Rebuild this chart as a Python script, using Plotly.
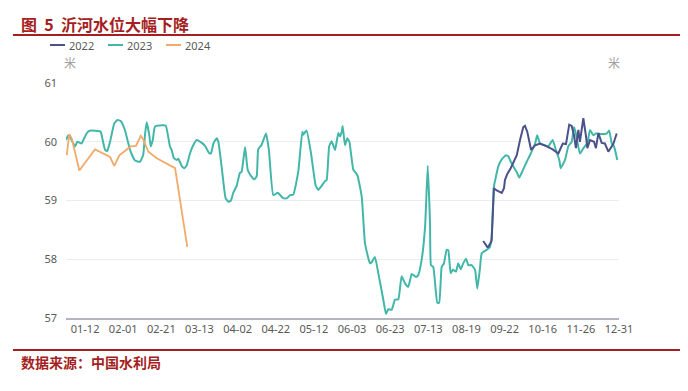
import plotly.graph_objects as go

# category index positions for tick labels
tick_pos = [10, 30, 50, 70, 90, 110, 130, 150, 170, 190, 210, 230, 250, 270, 290]
tick_labels = ["01-12", "02-01", "02-21", "03-13", "04-02", "04-22", "05-12", "06-03",
               "06-23", "07-13", "08-19", "09-22", "10-16", "11-26", "12-31"]
y_ticks = [57, 58, 59, 60, 61]

# 2022 series (category index, water level in metres)
x2022 = [218.8, 220.9, 221.4, 223.2, 224.4, 225.9, 228.5, 229.7, 230.2, 231.4, 233.2, 234.9,
         236.4, 238.1, 239.8, 240.7, 241.9, 243.0, 243.9, 246.0, 248.6, 252.1, 255.2, 258.2,
         260.5, 262.2, 263.9, 265.2, 266.4, 267.4, 268.7, 269.5, 271.3, 272.7, 273.4, 274.8,
         276.9, 277.9, 279.2, 280.9, 282.6, 284.4, 286.2, 287.0, 288.8]
y2022 = [58.31, 58.21, 58.21, 58.31, 59.21, 59.17, 59.13, 59.21, 59.35, 59.45, 59.55, 59.66,
         59.77, 60.03, 60.25, 60.27, 60.17, 60.00, 59.86, 59.94, 59.97, 59.92, 59.87, 59.80,
         59.97, 59.96, 60.29, 60.27, 60.11, 59.89, 60.20, 60.00, 60.40, 60.09, 59.89, 60.03,
         60.00, 59.89, 60.15, 59.98, 59.97, 59.83, 59.92, 59.96, 60.14]

# 2023 series
x2023 = [0, 1.2, 2.6, 4.7, 5.9, 8.2, 9.4, 11.2, 13.0, 17.5, 18.2, 20.5, 21.6, 23.1, 25.3, 26.9,
         28.8, 30.9, 33.6, 36.2, 38.8, 40.5, 41.4, 42.3, 43.7, 44.4, 45.5, 46.7, 51.0, 52.4,
         54.5, 55.4, 56.6, 58.1, 58.9, 60.8, 62.0, 63.3, 65.0, 66.4, 68.5, 71.2, 72.9, 75.0,
         76.0, 77.3, 79.0, 79.9, 81.6, 83.7, 85.1, 86.5, 87.7, 89.5, 91.2, 92.1, 93.9, 95.3,
         97.0, 98.7, 100.0, 100.8, 102.6, 104.9, 106.4, 108.7, 111.0, 113.9, 115.9, 117.5,
         119.2, 121.8, 123.9, 124.4, 125.3, 126.2, 128.5, 130.9, 132.3, 134.1, 135.8, 136.7,
         138.0, 139.3, 141.1, 142.8, 143.7, 144.6, 145.1, 146.3, 147.5, 148.6, 150.7, 152.8,
         155.1, 156.8, 159.4, 160.3, 162.0, 163.8, 166.4, 167.8, 169.0, 170.8, 172.5, 174.3,
         176.0, 177.8, 179.5, 181.3, 183.5, 184.7, 186.5, 188.3, 189.7, 190.9, 191.4, 192.6,
         194.7, 195.7, 197.0, 198.2, 199.6, 200.5, 201.7, 202.8, 204.5, 205.7, 207.0, 208.3,
         209.8, 211.0, 212.7, 214.5, 215.7, 217.1, 218.0, 220.6, 222.3, 223.2, 224.4, 224.9,
         226.7, 228.5, 230.7, 232.0, 232.8, 234.6, 236.4, 237.7, 239.5, 241.6, 243.3, 246.0,
         247.1, 248.6, 251.2, 252.9, 255.2, 256.9, 258.7, 259.4, 261.7, 263.4, 265.2, 266.4,
         267.4, 269.5, 271.3, 273.4, 274.8, 276.5, 277.9, 280.4, 283.5, 284.9, 286.2, 287.4,
         289.1]
y2023 = [60.03, 60.11, 60.05, 59.92, 60.00, 59.97, 60.05, 60.16, 60.19, 60.18, 60.17, 59.86,
         59.84, 60.00, 60.31, 60.37, 60.35, 60.20, 59.86, 59.68, 59.66, 59.78, 60.11, 60.33,
         60.11, 59.92, 60.03, 60.26, 60.28, 60.27, 59.92, 59.86, 59.72, 59.69, 59.71, 59.58,
         59.55, 59.60, 59.80, 59.92, 60.03, 59.98, 59.93, 59.81, 59.80, 59.97, 60.06, 60.00,
         59.58, 59.04, 58.98, 59.00, 59.13, 59.25, 59.47, 59.49, 59.91, 59.52, 59.42, 59.36,
         59.41, 59.87, 59.95, 60.14, 59.86, 59.09, 59.13, 59.04, 59.04, 59.09, 59.10, 59.49,
         60.17, 60.12, 60.16, 60.19, 59.80, 59.26, 59.18, 59.25, 59.33, 59.35, 59.92, 60.01,
         59.86, 60.15, 60.09, 60.17, 60.27, 59.94, 60.06, 60.00, 59.52, 59.43, 59.06, 58.27,
         57.93, 57.95, 58.04, 57.76, 57.31, 57.07, 57.15, 57.14, 57.31, 57.32, 57.71, 57.59,
         57.53, 57.75, 57.70, 57.73, 57.99, 58.55, 59.59, 58.61, 57.90, 57.87, 57.26, 57.26,
         57.87, 57.93, 58.16, 58.15, 57.76, 57.82, 57.79, 57.93, 57.83, 57.93, 58.01, 57.90,
         57.90, 57.82, 57.50, 57.85, 58.10, 58.16, 58.21, 58.38, 59.24, 59.32, 59.58, 59.70,
         59.77, 59.75, 59.69, 59.58, 59.48, 59.39, 59.51, 59.66, 59.77, 59.97, 60.11, 59.97,
         59.94, 59.92, 60.03, 59.86, 59.69, 59.55, 59.69, 59.92, 60.00, 60.25, 60.14, 59.80,
         59.89, 59.98, 60.20, 60.11, 60.14, 60.13, 60.14, 60.19, 59.97, 59.92, 59.69]

# 2024 series
x2024 = [0.4, 1.7, 3.0, 7.0, 15.2, 23.1, 25.3, 28.0, 33.9, 36.7, 39.2, 40.5, 43.2, 47.6, 57.2, 63.6]
y2024 = [59.77, 60.13, 60.06, 59.51, 59.87, 59.74, 59.59, 59.77, 59.92, 59.93, 60.10, 60.04,
         59.83, 59.72, 59.55, 58.21]

C2022 = "#4B5189"
C2023 = "#42B7A9"
C2024 = "#F0AA6A"
RED = "#A51E22"
GRAY = "#595959"

fig = go.Figure()
fig.add_trace(go.Scatter(x=x2023, y=y2023, mode="lines", name="2023",
                         line=dict(color=C2023, width=2, shape="spline", smoothing=0.4)))
fig.add_trace(go.Scatter(x=x2024, y=y2024, mode="lines", name="2024",
                         line=dict(color=C2024, width=1.8)))
fig.add_trace(go.Scatter(x=x2022, y=y2022, mode="lines", name="2022",
                         line=dict(color=C2022, width=2)))

# page offset: the html body adds an 8px margin around the figure
OFF = 8
FW, FH = 688 - OFF, 391 - OFF
# plot-area edges in page pixels
L, R, T, B = 66, 619, 83, 318
W, H = R - L, B - T


def px(x):
    return (x - L) / W


def py(y):
    return (B - y) / H


shapes = []
annotations = []
# title and source rules
shapes.append(dict(type="line", xref="paper", yref="paper", x0=px(13), x1=px(700),
                   y0=py(35), y1=py(35), line=dict(color=RED, width=2)))
shapes.append(dict(type="line", xref="paper", yref="paper", x0=px(13), x1=px(700),
                   y0=py(350), y1=py(350), line=dict(color=RED, width=2)))
annotations.append(dict(text="<b>图  5  沂河水位大幅下降</b>", xref="paper", yref="paper",
                        x=px(19), y=py(24), xanchor="left", yanchor="middle", showarrow=False,
                        font=dict(family="Noto Sans CJK SC", size=16, color=RED)))
annotations.append(dict(text="<b>数据来源：中国水利局</b>", xref="paper", yref="paper",
                        x=px(19), y=py(362), xanchor="left", yanchor="middle", showarrow=False,
                        font=dict(family="Noto Sans CJK SC", size=14, color=RED)))
# legend (manual)
for name, col, x0 in [("2022", C2022, 50), ("2023", C2023, 108), ("2024", C2024, 166)]:
    shapes.append(dict(type="line", xref="paper", yref="paper", x0=px(x0), x1=px(x0 + 15),
                       y0=py(45), y1=py(45), line=dict(color=col, width=2)))
    annotations.append(dict(text=name, xref="paper", yref="paper", x=px(x0 + 17), y=py(45),
                            xanchor="left", yanchor="middle", showarrow=False,
                            font=dict(family="Noto Sans", size=11, color=GRAY)))
# units
annotations.append(dict(text="米", xref="paper", yref="paper", x=px(70), y=py(62),
                        xanchor="center", yanchor="middle", showarrow=False,
                        font=dict(family="Noto Sans CJK SC", size=12, color="#A0A0A0")))
annotations.append(dict(text="米", xref="paper", yref="paper", x=px(614), y=py(62),
                        xanchor="center", yanchor="middle", showarrow=False,
                        font=dict(family="Noto Sans CJK SC", size=12, color="#A0A0A0")))

fig.update_layout(
    width=FW, height=FH,
    margin=dict(l=L - OFF, r=FW - (R - OFF), t=T - OFF, b=FH - (B - OFF)),
    paper_bgcolor="white", plot_bgcolor="white",
    showlegend=False,
    shapes=shapes, annotations=annotations,
    font=dict(family="Noto Sans", size=11, color=GRAY),
    xaxis=dict(range=[0, 290], tickvals=tick_pos, ticktext=tick_labels, showgrid=False,
               zeroline=False, showline=True, linecolor="#B4B4BE", linewidth=1.5, ticks="",
               tickfont=dict(size=11, color=GRAY), automargin=False),
    yaxis=dict(range=[57, 61], tickvals=y_ticks, showgrid=True, gridcolor="#EDEDED",
               zeroline=False, showline=False, ticks="", ticklabelstandoff=8,
               tickfont=dict(size=11, color=GRAY), automargin=False),
    yaxis2=dict(range=[57, 61], tickvals=y_ticks, overlaying="y", side="right",
                showgrid=False, zeroline=False, showline=False, ticks="", ticklabelstandoff=8,
                tickfont=dict(size=11, color=GRAY), automargin=False),
)

fig.write_html("out.html")
